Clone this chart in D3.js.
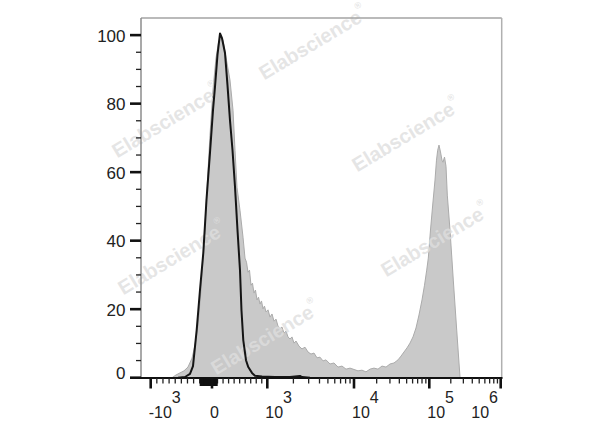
<!DOCTYPE html>
<html><head><meta charset="utf-8">
<script src="https://cdn.jsdelivr.net/npm/d3@7"></script>
<style>body{margin:0;background:#fff}svg{display:block}</style>
</head><body><svg id="c" width="600" height="427"></svg>
<script>
// Stained sample (grey filled histogram): fluorescence value, % of max
const grayX = [-652,-587,-522,-457,-392,-326,-277,-228,-179,-131,-82,-33,18,72,118,163,199,262,325,380,416,452,506,561,
  597,624,651,678,705,732,759,786,814,841,868,895,922,949,976,1019,1074,1133,1195,1260,1328,1401,1477,1558,1643,1733,1827,1927,2032,2143,2321,2513,2722,2948,3192,3457,3744,4053,4390,4754,5287,5880,6539,7272,8088,8994,
  11300,12770,14430,16310,18430,20830,23540,26610,30070,33980,38400,42090,46130,50570,55420,60740,66580,72980,80000,86350,92370,96980,
  103900,111600,120200,126100,131100,136700,143500,150600,155500,163300,171400,178700,195000,216800,242000,260600,269200];
const grayY = [0,0.8,1.4,2.0,3.1,5.7,9.5,15.4,25.6,38.7,54.8,70.8,84.0,93.3,97.9,99.7,98.5,92.7,86.9,78.1,66.4,55.6,48.9,41.0,
  34.9,33.7,30.8,31.4,27.0,27.6,24.7,25.6,22.7,23.5,21.5,22.4,20.1,20.9,19.2,19.8,17.7,18.6,16.5,17.1,15.1,14.3,14.8,13.0,13.6,11.9,11.3,11.9,10.1,10.7,9.2,8.4,8.9,7.5,6.9,7.2,5.8,6.0,4.9,5.2,4.0,4.3,3.1,3.4,2.5,2.8,
  2.0,2.2,1.7,2.5,2.8,2.5,3.4,3.1,4.0,4.3,5.2,6.3,7.5,8.7,10.1,11.9,14.5,18.3,22.7,27.0,31.4,34.9,43.1,
  50.4,57.7,63.5,66.4,67.9,65.9,63.5,62.9,64.4,61.7,53.3,43.1,28.5,13.9,4.3,0.2,0];
// Unstained control (black line)
const blackX = [-555,-440,-359,-310,-250,-196,-142,-90,-33,18,54,99,145,181,235,280,325,371,416,461,506,533,566,615,656,723,777,904,1227,1827,2384,2513,3108];
const blackY = [0,0.2,1.1,3.4,13.9,25.6,36.4,51.9,65.6,78.1,84.9,94.2,100.5,99.1,94.8,85.4,75.2,66.4,55.7,43.1,31.4,19.7,10.9,5.1,3.1,1.4,0.6,0.35,0.2,0.2,0.5,0.2,0];

const yMajor = [0,20,40,60,80,100];
const yMinor = d3.range(5,100,5).filter(v => v % 20 !== 0);
const xMajor = [-1000,0,1000,10000,100000,1000000];
const xMajorLabels = [["-10","3"],["0",""],["10","3"],["10","4"],["10","5"],["10","6"]];
const xMinor = [].concat(d3.range(-900,0,100), d3.range(100,1000,100),
  d3.range(2000,10000,1000), d3.range(20000,100000,10000), d3.range(200000,1000000,100000));
const xNearZero = d3.range(-190,100,10);
const watermarks = [[313,43],[406,135],[166,121],[435,240],[172,258],[265,338]];

function T(v){ const a = Math.abs(v); return a <= 1000 ? v/1000 : Math.sign(v)*(1+Math.log10(a/1000)); }
const xs = d3.scaleLinear().domain([-1,0,1,2,3,4]).range([150.7,212,267.3,354,429.3,500.7]);
const x = v => xs(T(v));
const y = d3.scaleLinear().domain([0,105]).range([377.7,18]);

const svg = d3.select("#c");
const FONT = "'Liberation Sans', Arial, sans-serif";
const L = 141, R = 501.7, TOP = 18, BOT = 378;

const gData = grayX.map((v,i) => [v, grayY[i]]);
const bData = blackX.map((v,i) => [v, blackY[i]]);

svg.append("path").datum(gData)
  .attr("d", d3.area().x(d => x(d[0])).y0(y(0)).y1(d => y(d[1])))
  .attr("fill", "#c9c9c9").attr("stroke", "#ababab").attr("stroke-width", 1);

// watermarks
watermarks.forEach(([cx,cy]) => {
  const t = svg.append("text").attr("transform", `translate(${cx},${cy}) rotate(-31)`)
    .attr("text-anchor","middle").attr("dominant-baseline","central")
    .attr("font-family", FONT).attr("font-weight","bold").attr("font-size", 20)
    .attr("fill", "rgb(222,222,222)").attr("fill-opacity", 0.8);
  t.append("tspan").text("Elabscience");
  t.append("tspan").attr("font-size", 9).attr("dy", -9).text("®");
});

svg.append("path").datum(bData)
  .attr("d", d3.line().x(d => x(d[0])).y(d => y(d[1])))
  .attr("fill", "none").attr("stroke", "#151515").attr("stroke-width", 2).attr("stroke-linejoin","round");

// frame
svg.append("line").attr("x1", L).attr("x2", R).attr("y1", TOP).attr("y2", TOP).attr("stroke", "#a3a3a3").attr("stroke-width", 1.5);
svg.append("line").attr("x1", R).attr("x2", R).attr("y1", TOP).attr("y2", BOT).attr("stroke", "#b0b0b0").attr("stroke-width", 1.5);
svg.append("line").attr("x1", L).attr("x2", L).attr("y1", TOP).attr("y2", BOT).attr("stroke", "#8c8c8c").attr("stroke-width", 1.5);

// y ticks
yMinor.forEach(v => svg.append("line").attr("x1", 136).attr("x2", L).attr("y1", y(v)).attr("y2", y(v)).attr("stroke", "#222").attr("stroke-width", 1.3));
yMajor.forEach(v => {
  svg.append("line").attr("x1", 130).attr("x2", L).attr("y1", y(v)).attr("y2", y(v)).attr("stroke", "#111").attr("stroke-width", 2.6);
  svg.append("text").attr("x", 125.5).attr("y", y(v) + (v === 0 ? -4.5 : 1)).attr("text-anchor","end")
    .attr("dominant-baseline","central").attr("font-family", FONT).attr("font-size", 17).attr("fill", "#222").text(v);
});

// x axis line
svg.append("line").attr("x1", 130).attr("x2", R + 0.8).attr("y1", BOT).attr("y2", BOT).attr("stroke", "#111").attr("stroke-width", 2.2);
xMinor.forEach(v => svg.append("line").attr("x1", x(v)).attr("x2", x(v)).attr("y1", BOT).attr("y2", 383.5).attr("stroke", "#222").attr("stroke-width", 1.3));
xNearZero.forEach(v => svg.append("line").attr("x1", x(v)).attr("x2", x(v)).attr("y1", BOT).attr("y2", 386).attr("stroke", "#111").attr("stroke-width", 1.4));
xMajor.forEach((v,i) => {
  svg.append("line").attr("x1", x(v)).attr("x2", x(v)).attr("y1", BOT).attr("y2", 388.5).attr("stroke", "#111").attr("stroke-width", 2.6);
  const last = i === xMajor.length - 1;
  const t = svg.append("text").attr("y", 418.3).attr("font-family", FONT).attr("font-size", 16).attr("fill", "#222")
    .attr("x", last ? x(v) - 2.7 : x(v) - 2).attr("text-anchor", last ? "end" : "start");
  t.append("tspan").text(xMajorLabels[i][0]);
  if (xMajorLabels[i][1]) t.append("tspan").attr("dy", -15).text(xMajorLabels[i][1]);
});
</script>
</body></html>
